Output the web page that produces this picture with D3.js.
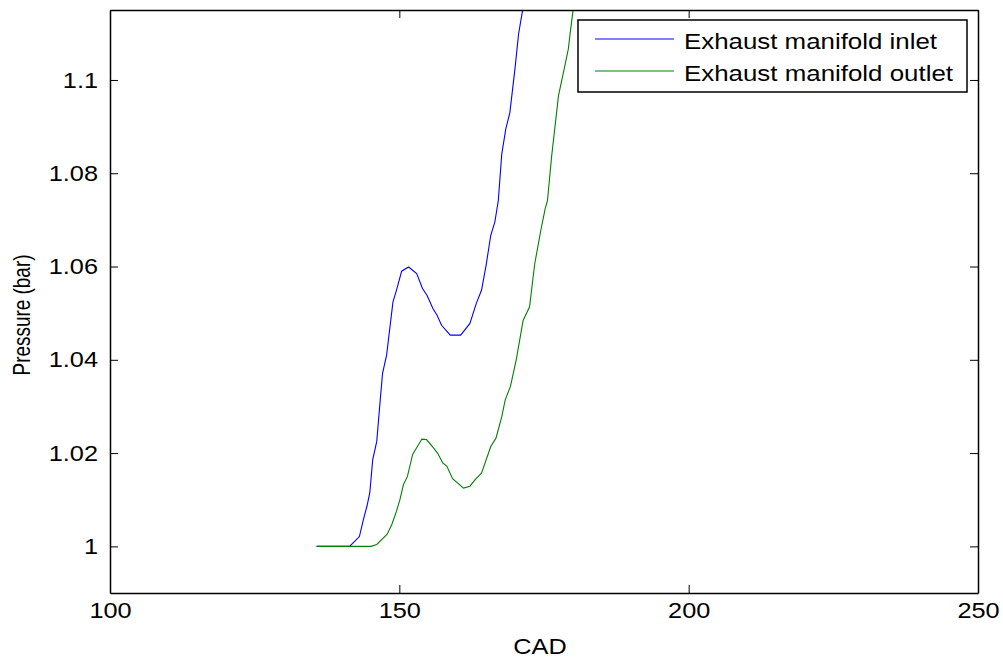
<!DOCTYPE html>
<html lang="en">
<head>
    <meta charset="UTF-8">
    <title>Exhaust manifold pressure</title>
    <script src="https://d3js.org/d3.v7.min.js"></script>
    <style>
        body {
            margin: 0;
            background-color: #fff;
            font-family: "Liberation Sans", Arial, sans-serif;
        }
        .axis path, .axis line {
            stroke: #000;
        }
        .axis path {
            stroke-width: 1.5px;
        }
        .axis text {
            font-size: 22px;
            fill: #000;
            font-family: "Liberation Sans", Arial, sans-serif;
        }
        .curve {
            fill: none;
            stroke-width: 1.1px;
        }
    </style>
</head>
<body>
<div id="chart"></div>

<script>
    // data
    const inletCad = [135.7, 141.4, 143.1, 143.8, 144.4, 144.9, 145.4, 146.1, 146.7, 147.1, 147.8, 148.9,
        149.5, 150.4, 151.6, 153.0, 154.0, 154.8, 155.8, 156.5, 157.3, 158.8, 160.6, 162.2, 163.3,
        164.2, 165.0, 165.8, 166.5, 167.1, 167.7, 168.4, 169.1, 170.0, 170.6, 171.3, 173.0];
    const inletPressure = [1.0, 1.0, 1.0021, 1.0058, 1.0086, 1.0115, 1.0186, 1.0225, 1.0314, 1.0371, 1.041, 1.0524,
        1.0549, 1.059, 1.0599, 1.0585, 1.0553, 1.0538, 1.051, 1.0496, 1.0474, 1.0453, 1.0453, 1.0478, 1.0521,
        1.0549, 1.0603, 1.0667, 1.0695, 1.0741, 1.0841, 1.0895, 1.093, 1.1026, 1.1098, 1.1149, 1.13];

    const outletCad = [135.7, 145.1, 146.1, 147.0, 147.9, 148.7, 149.5, 150.1, 150.7, 151.4, 152.3, 153.9,
        154.7, 155.9, 156.6, 157.5, 158.2, 159.2, 161.1, 162.2, 163.1, 164.2, 165.8, 166.7, 167.7,
        168.3, 169.2, 170.2, 171.4, 172.5, 173.4, 174.4, 175.2, 175.6, 176.3, 177.5, 178.6, 179.2,
        179.6, 180.0, 181.5];
    const outletPressure = [1.0, 1.0, 1.0004, 1.0015, 1.0026, 1.0047, 1.0075, 1.01, 1.0132, 1.015, 1.0197, 1.023,
        1.0229, 1.0211, 1.02, 1.0179, 1.0172, 1.0145, 1.0125, 1.0129, 1.0143, 1.0157, 1.0214, 1.0232, 1.0278,
        1.0314, 1.0343, 1.04, 1.0485, 1.0513, 1.0606, 1.0674, 1.0724, 1.0741, 1.0834, 1.0966, 1.103, 1.1066,
        1.1108, 1.1147, 1.13];

    const seriesNames = ["Exhaust manifold inlet", "Exhaust manifold outlet"];
    const seriesColors = ["#0000ff", "#008000"];

    const xTicks = [100, 150, 200, 250];
    const xTickLabels = ["100", "150", "200", "250"];
    const yTicks = [1, 1.02, 1.04, 1.06, 1.08, 1.1];
    const yTickLabels = ["1", "1.02", "1.04", "1.06", "1.08", "1.1"];

    const W = 1003, H = 659;
    const plotLeft = 110, plotTop = 10, plotRight = 978, plotBottom = 593;
    const widen = 1.15; // the original text is a bit wider than Arial

    const svg = d3.select("#chart").append("svg")
        .attr("width", W)
        .attr("height", H);

    const x = d3.scaleLinear().domain([100, 250]).range([plotLeft, plotRight]);
    const y = d3.scaleLinear().domain([0.99, 1.115]).range([plotBottom, plotTop]);

    svg.append("clipPath").attr("id", "plotclip")
        .append("rect")
        .attr("x", plotLeft).attr("y", plotTop)
        .attr("width", plotRight - plotLeft).attr("height", plotBottom - plotTop);

    // curves
    const line = d3.line().x(d => x(d[0])).y(d => y(d[1]));
    const series = [
        d3.zip(inletCad, inletPressure),
        d3.zip(outletCad, outletPressure)
    ];
    svg.append("g").attr("clip-path", "url(#plotclip)")
        .selectAll("path")
        .data(series)
        .enter()
        .append("path")
        .attr("class", "curve")
        .attr("stroke", (d, i) => seriesColors[i])
        .attr("d", line);

    // axes, ticks pointing inwards like matlab
    svg.append("g").attr("class", "axis")
        .attr("transform", `translate(0,${plotBottom})`)
        .call(d3.axisBottom(x).tickValues(xTicks).tickFormat((d, i) => xTickLabels[i])
            .tickSize(-8).tickSizeOuter(0).tickPadding(9));

    svg.append("g").attr("class", "axis")
        .attr("transform", `translate(0,${plotTop})`)
        .call(d3.axisTop(x).tickValues(xTicks).tickFormat("")
            .tickSize(-8).tickSizeOuter(0));

    svg.append("g").attr("class", "axis")
        .attr("transform", `translate(${plotLeft},0)`)
        .call(d3.axisLeft(y).tickValues(yTicks).tickFormat((d, i) => yTickLabels[i])
            .tickSize(-8).tickSizeOuter(0).tickPadding(12));

    svg.append("g").attr("class", "axis")
        .attr("transform", `translate(${plotRight},0)`)
        .call(d3.axisRight(y).tickValues(yTicks).tickFormat("")
            .tickSize(-8).tickSizeOuter(0));

    svg.selectAll(".axis").attr("font-size", null).attr("font-family", null);

    // axis titles
    svg.append("text")
        .attr("class", "wide")
        .attr("x", (plotLeft + plotRight) / 2 - 4)
        .attr("y", 654)
        .attr("text-anchor", "middle")
        .style("font-size", "22px")
        .text("CAD");

    svg.append("text")
        .attr("transform", "translate(30,315) rotate(-90)")
        .attr("text-anchor", "middle")
        .style("font-size", "24px")
        .attr("textLength", 121)
        .attr("lengthAdjust", "spacingAndGlyphs")
        .text("Pressure (bar)");

    // stretch tick labels and x title a little
    svg.selectAll(".axis .tick text, text.wide").each(function () {
        const w = this.getComputedTextLength();
        if (w > 0) {
            d3.select(this)
                .attr("textLength", w * widen)
                .attr("lengthAdjust", "spacingAndGlyphs");
        }
    });

    // legend
    const legend = svg.append("g");
    legend.append("rect")
        .attr("x", 578).attr("y", 20)
        .attr("width", 389).attr("height", 72)
        .attr("fill", "#fff")
        .attr("stroke", "#000")
        .attr("stroke-width", 1.5);

    const legendWidths = [253, 269];
    seriesNames.forEach((name, i) => {
        const ly = 39 + i * 32;
        legend.append("line")
            .attr("x1", 595).attr("x2", 674)
            .attr("y1", ly).attr("y2", ly)
            .attr("stroke", seriesColors[i])
            .attr("stroke-width", 1.1);
        legend.append("text")
            .attr("x", 684).attr("y", ly + 10)
            .style("font-size", "22px")
            .attr("textLength", legendWidths[i])
            .attr("lengthAdjust", "spacingAndGlyphs")
            .text(name);
    });
</script>
</body>
</html>
